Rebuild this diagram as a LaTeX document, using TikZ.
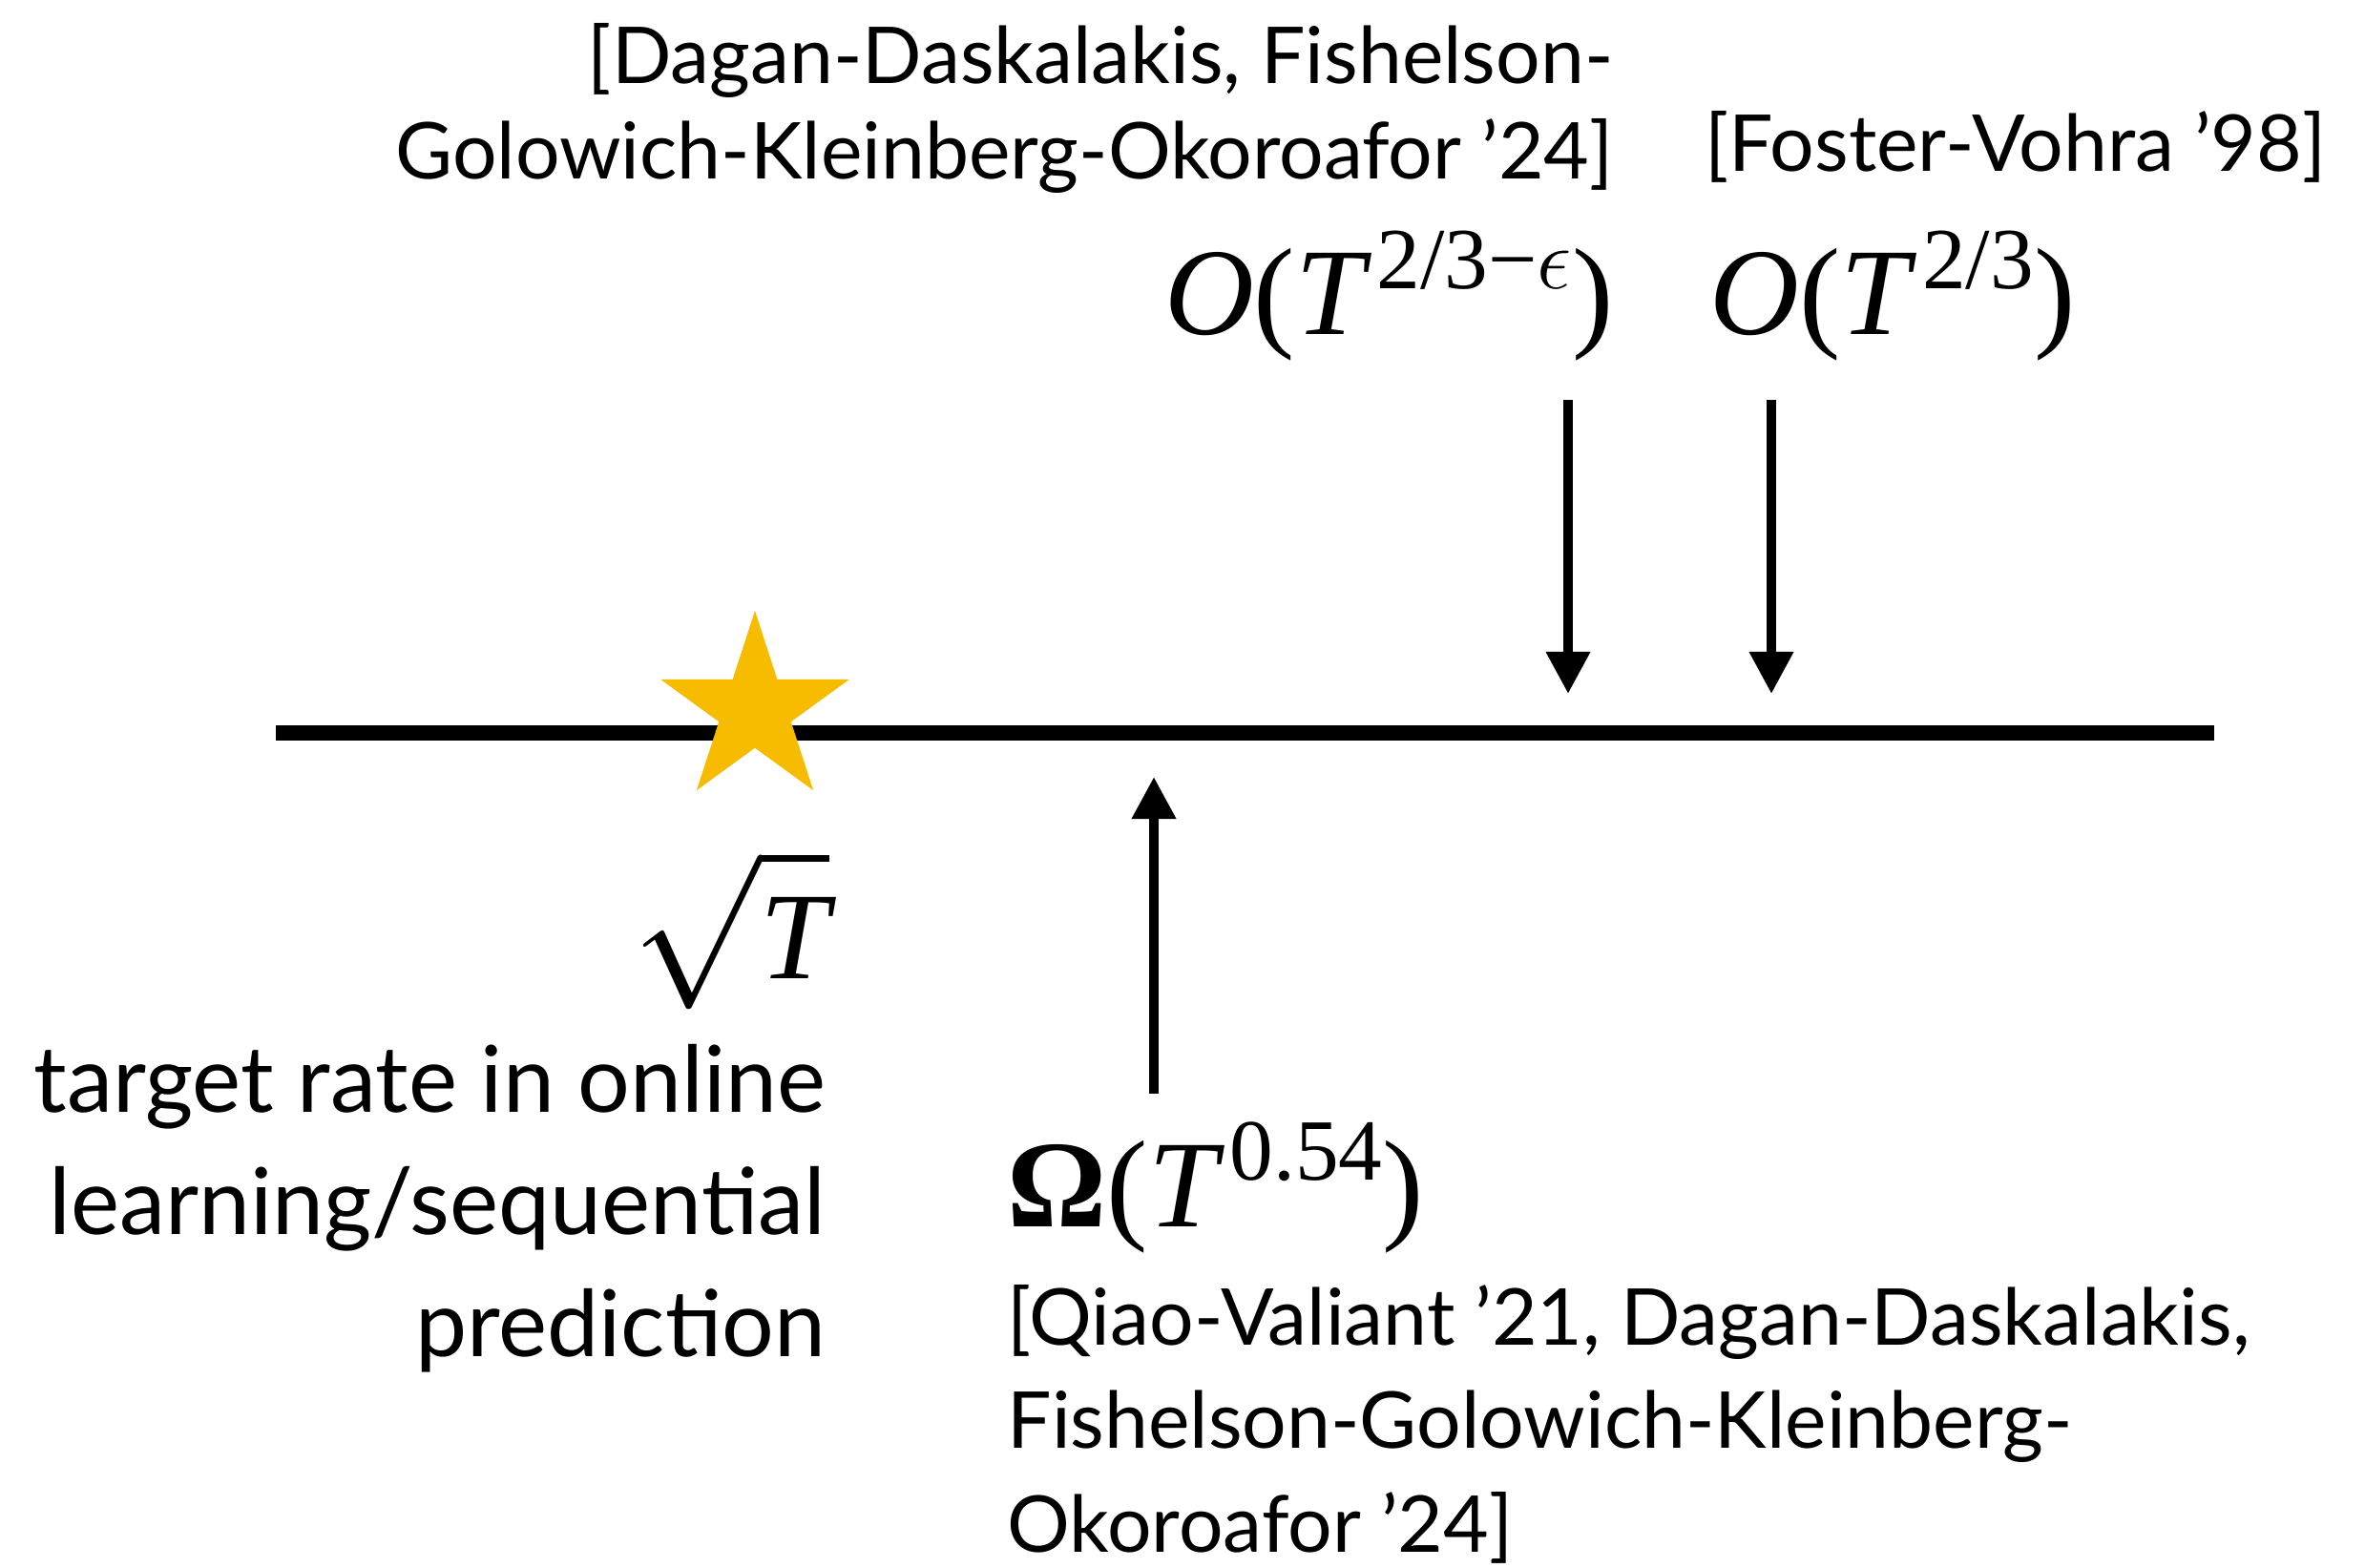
\RequirePackage{fix-cm}
\documentclass[tikz,border=0pt]{standalone}
\usepackage{exscale}
\usepackage{fontspec}
\newfontfamily\citefont{Lato}
\newfontfamily\timesfont{Liberation Serif}
\usetikzlibrary{shapes.geometric, arrows.meta, positioning}
\definecolor{stargold}{RGB}{247,188,0}
\newcommand\expo[1]{\kern0.1em\raisebox{0.37em}{\fontsize{26}{26}\selectfont #1}}
\tikzset{
  cite/.style={inner sep=0pt, font=\citefont\fontsize{23.4}{28.7}\selectfont},
  citeb/.style={cite, font=\citefont\fontsize{23.4}{30.8}\selectfont},
  desc/.style={inner sep=0pt, align=right,
    font=\citefont\fontsize{27.5}{36.3}\selectfont},
  rate/.style={inner sep=0pt, font=\timesfont\fontsize{37}{44}\selectfont},
  axis/.style={line width=0.16cm},
  arr/.style={line width=0.1cm, -{Triangle[width=0.44cm, length=0.44cm]}},
  goldstar/.style={star, star points=5, star point ratio=2.618,
    minimum size=2.08cm, inner sep=0pt, fill=stargold, draw=none}
}
\begin{document}
\begin{tikzpicture}
  \useasboundingbox (0,0) rectangle (24.78,16.42);

  %% ── ось ───────────────────────────────────────────────
  \coordinate (axisL) at (2.89,8.74);
  \coordinate (axisR) at (23.20,8.74);
  \draw[axis] (axisL) -- (axisR);
  \node[goldstar] (star) at (7.91,8.98) {};

  %% ── целевая скорость ──────────────────────────────────
  \node[rate, anchor=base east] (sqrtT) at (8.70,6.17)
        {\fontsize{46}{50}\selectfont
         $\sqrt{\hbox{\fontsize{37}{44}\selectfont\itshape T}}$};
  \node[desc, anchor=base east] (target) at (8.66,2.21)
        {target rate in online\\learning/sequential\\prediction};

  %% ── верхние оценки ────────────────────────────────────
  \node[rate, anchor=base east] (ubdd) at (16.91,12.91)
        {\itshape O\upshape(\itshape T\upshape\expo{2/3−$\epsilon$})};
  \node[cite, align=right, anchor=base east] (citedd) at (16.91,14.54)
        {[Dagan-Daskalakis, Fishelson-\\Golowich-Kleinberg-Okoroafor ’24]};
  \node[rate, anchor=base west] (ubfv) at (17.91,12.91)
        {\itshape O\upshape(\itshape T\upshape\expo{2/3})};
  \node[cite, anchor=base west] (citefv) at (17.86,14.62) {[Foster-Vohra ’98]};

  \coordinate (ddtop) at (16.43,12.23);
  \coordinate (ddtip) at (16.43,9.15);
  \coordinate (fvtop) at (18.56,12.23);
  \coordinate (fvtip) at (18.56,9.15);
  \draw[arr] (ddtop) -- (ddtip);
  \draw[arr] (fvtop) -- (fvtip);

  %% ── нижняя оценка ─────────────────────────────────────
  \node[rate, anchor=base west] (lbqv) at (10.55,3.57)
        {{\bfseries Ω}(\itshape T\upshape\expo{0.54})};
  \node[citeb, align=left, anchor=base west] (citeqv) at (10.55,0.16)
        {[Qiao-Valiant ’21, Dagan-Daskalakis,\\Fishelson-Golowich-Kleinberg-\\Okoroafor ’24]};

  \coordinate (qvbot) at (12.09,4.96);
  \coordinate (qvtip) at (12.09,8.28);
  \draw[arr] (qvbot) -- (qvtip);

\end{tikzpicture}
\end{document}
